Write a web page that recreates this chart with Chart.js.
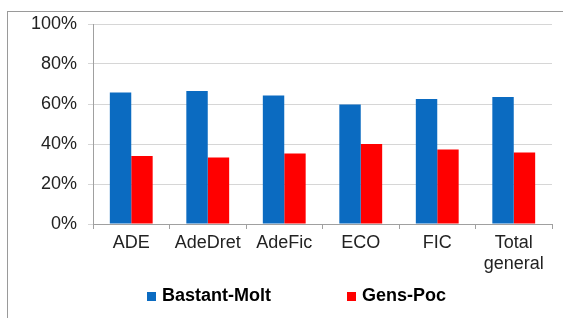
<!DOCTYPE html>
<html>
<head>
<meta charset="utf-8">
<script src="https://cdn.jsdelivr.net/npm/chart.js@4.4.0/dist/chart.umd.min.js"></script>
<style>
  body { margin: 0; background: #fff; }
  #wrap { position: relative; width: 563px; height: 318px; overflow: hidden; }
  #frame { position: absolute; left: 7px; top: 11px; width: 600px; height: 400px; border: 1px solid #9a9a9a; }
  canvas { position: absolute; left: 0; top: 0; }
</style>
</head>
<body>
<div id="wrap">
  <div id="frame"></div>
  <canvas id="myChart" width="563" height="318"></canvas>
</div>
<script>
const categories = ["ADE", "AdeDret", "AdeFic", "ECO", "FIC", ["Total", "general"]];
const bastantMolt = [65.8, 66.5, 64.2, 59.8, 62.5, 63.5];
const gensPoc = [34.0, 33.2, 35.3, 40.0, 37.2, 35.7];
const yTicks = [0, 20, 40, 60, 80, 100];

const ctx = document.getElementById("myChart").getContext("2d");

// legend drawn by hand so the two items sit far apart like the original
const legendPlugin = {
  id: "wideLegend",
  afterDraw(chart) {
    const c = chart.ctx;
    const xs = [147, 347];
    const y = 296;
    c.save();
    c.font = "bold 18px 'Liberation Sans'";
    c.textBaseline = "middle";
    c.textAlign = "left";
    chart.data.datasets.forEach((ds, i) => {
      c.fillStyle = ds.backgroundColor;
      c.fillRect(xs[i], y - 4, 9, 9);
      c.fillStyle = "#000";
      c.fillText(ds.label, xs[i] + 15, y);
    });
    c.restore();
  },
};

const data = {
  labels: categories,
  datasets: [
    {
      label: "Bastant-Molt",
      data: bastantMolt,
      backgroundColor: "#0B6BC1",
      categoryPercentage: 0.56,
      barPercentage: 1,
    },
    {
      label: "Gens-Poc",
      data: gensPoc,
      backgroundColor: "#FF0000",
      categoryPercentage: 0.56,
      barPercentage: 1,
    },
  ],
};

const config = {
  type: "bar",
  data: data,
  options: {
    responsive: false,
    animation: false,
    layout: { padding: { top: 24, right: 11, left: 0, bottom: 44 } },
    plugins: {
      tooltip: { enabled: false },
      legend: { display: false },
    },
    scales: {
      x: {
        grid: { drawOnChartArea: false, drawTicks: true, tickLength: 5, color: "#a0a0a0" },
        border: { color: "#a0a0a0" },
        ticks: {
          color: "#222",
          font: { family: "Liberation Sans", size: 18, lineHeight: 1.15 },
          padding: 4,
          maxRotation: 0,
          autoSkip: false,
        },
        afterFit: (scale) => { scale.height = 50; },
      },
      y: {
        min: 0,
        max: 100,
        afterBuildTicks: (scale) => { scale.ticks = yTicks.map((v) => ({ value: v })); },
        grid: { color: "#d6d6d6", tickLength: 5 },
        border: { color: "#a0a0a0" },
        ticks: {
          color: "#222",
          font: { family: "Liberation Sans", size: 18 },
          padding: 11,
          callback: (value) => value + "%",
        },
        afterFit: (scale) => { scale.width = 93; },
      },
    },
  },
  plugins: [legendPlugin],
};

const chart = new Chart(ctx, config);
</script>
</body>
</html>
